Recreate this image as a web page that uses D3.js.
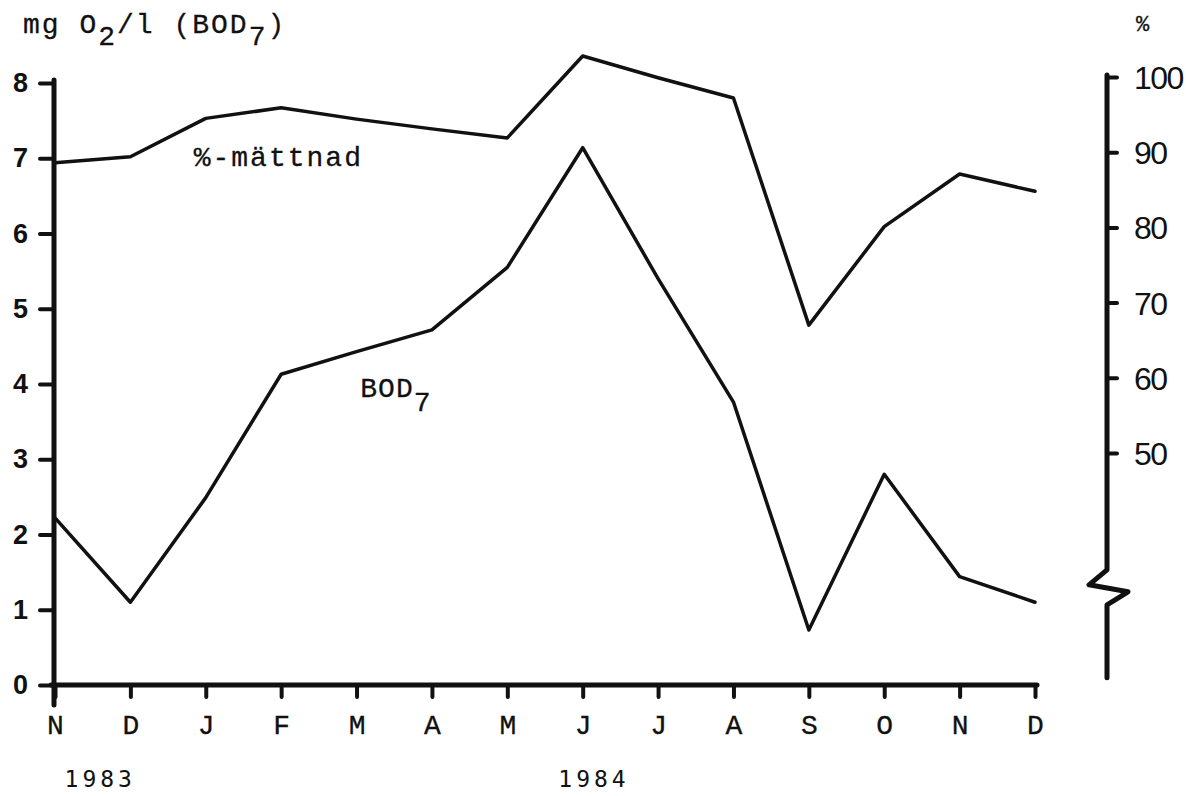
<!DOCTYPE html>
<html>
<head>
  <meta charset="utf-8">
  <title>BOD7 och syremättnad</title>
  <script src="https://d3js.org/d3.v7.min.js"></script>
  <style>
    body { margin: 0; background: #fff; }
    svg { display: block; }
    .mono { font-family: "Liberation Mono", "DejaVu Sans Mono", monospace; fill: #111; stroke: #111; stroke-width: 0.3px; }
    .left-axis text { font-family: "Liberation Sans", Arial, sans-serif; font-weight: bold; font-size: 27px; fill: #111; }
    .right-axis text { font-family: "Liberation Sans", Arial, sans-serif; font-size: 32px; letter-spacing: -1.5px; fill: #111; }
    .bottom-axis text { font-family: "Liberation Mono", monospace; font-size: 28px; fill: #111; stroke: #111; stroke-width: 0.3px; }
    .series { fill: none; stroke: #111; stroke-width: 3.5px; stroke-linejoin: round; stroke-linecap: round; }
  </style>
</head>
<body>
  <svg width="1186" height="796"></svg>
  <script>
    // months Nov 1983 - Dec 1984
    const months = ["N", "D", "J", "F", "M", "A", "M", "J", "J", "A", "S", "O", "N", "D"];
    const years = [{ label: "1983", at: 0.6 }, { label: "1984", at: 7.15 }];

    // BOD7, mg O2/l
    const bod7 = [2.22, 1.10, 2.49, 4.13, 4.43, 4.72, 5.55, 7.14, 5.40, 3.76, 0.73, 2.80, 1.44, 1.10];
    // syremättnad, %
    const saturation = [88.6, 89.4, 94.5, 95.9, 94.4, 93.1, 91.9, 102.8, 99.9, 97.2, 67.0, 80.1, 87.1, 84.8];

    const leftTicks = [0, 1, 2, 3, 4, 5, 6, 7, 8];
    const rightTicks = [50, 60, 70, 80, 90, 100];

    const svg = d3.select("svg");

    const x = d3.scaleLinear().domain([0, months.length - 1]).range([55, 1035]);
    const yLeft = d3.scaleLinear().domain([0, 8]).range([685, 83]);
    const yRight = d3.scaleLinear().domain([50, 100]).range([453, 77]);

    // left axis
    const gLeft = svg.append("g")
      .attr("class", "left-axis")
      .attr("transform", "translate(54,0)")
      .call(d3.axisLeft(yLeft).tickValues(leftTicks).tickSize(14).tickPadding(12).tickSizeOuter(0));
    gLeft.select(".domain").remove();
    gLeft.selectAll(".tick line").attr("stroke", "#111").attr("stroke-width", 4).attr("stroke-linecap", "round");
    gLeft.append("line")
      .attr("y1", yLeft(8) - 3).attr("y2", yLeft(0) + 20)
      .attr("stroke", "#111").attr("stroke-width", 5).attr("stroke-linecap", "round");

    // bottom axis
    const gBottom = svg.append("g")
      .attr("class", "bottom-axis")
      .attr("transform", `translate(0,${yLeft(0)})`)
      .call(d3.axisBottom(x).tickValues(d3.range(months.length)).tickFormat(i => months[i])
        .tickSize(12).tickPadding(24).tickSizeOuter(0));
    gBottom.select(".domain").remove();
    gBottom.selectAll(".tick line").attr("stroke", "#111").attr("stroke-width", 4).attr("stroke-linecap", "round");
    gBottom.append("line")
      .attr("x1", x(0) - 4).attr("x2", x(months.length - 1) + 2)
      .attr("stroke", "#111").attr("stroke-width", 5).attr("stroke-linecap", "round");
    gBottom.selectAll(".tick text").attr("dy", "0.45em");

    // right axis with break
    const rx = 1107;
    const gRight = svg.append("g")
      .attr("class", "right-axis")
      .attr("transform", `translate(${rx},0)`)
      .call(d3.axisRight(yRight).tickValues(rightTicks).tickSize(10).tickPadding(17).tickSizeOuter(0));
    gRight.select(".domain").remove();
    gRight.selectAll(".tick line").attr("stroke", "#111").attr("stroke-width", 4).attr("stroke-linecap", "round");
    gRight.selectAll(".tick text").attr("dy", "0.36em");
    const bTop = yRight(35) + 4;
    gRight.append("path")
      .attr("d", `M0,${yRight(100) - 2} V${bTop} L-18,${bTop + 15} L21,${bTop + 22} L0,${bTop + 35} V${bTop + 108}`)
      .attr("fill", "none").attr("stroke", "#111").attr("stroke-width", 5)
      .attr("stroke-linejoin", "round").attr("stroke-linecap", "round");

    // series
    const lineBod = d3.line().x((d, i) => x(i)).y(d => yLeft(d));
    const lineSat = d3.line().x((d, i) => x(i)).y(d => yRight(d));
    svg.append("path").attr("class", "series").attr("d", lineBod(bod7));
    svg.append("path").attr("class", "series").attr("d", lineSat(saturation));

    // labels
    const title = svg.append("text").attr("class", "mono")
      .attr("x", 23).attr("y", 33).attr("font-size", 28).attr("letter-spacing", 2);
    title.append("tspan").text("mg O");
    title.append("tspan").attr("dy", 12).text("2");
    title.append("tspan").attr("dy", -12).text("/l (BOD");
    title.append("tspan").attr("dy", 12).text("7");
    title.append("tspan").attr("dy", -12).text(")");

    svg.append("text").attr("class", "mono")
      .attr("x", 1136).attr("y", 31).attr("font-size", 22).text("%");

    svg.append("text").attr("class", "mono")
      .attr("x", x(1.84)).attr("y", yLeft(6.9)).attr("font-size", 28).attr("letter-spacing", 2)
      .text("%-mättnad");

    const bodLabel = svg.append("text").attr("class", "mono")
      .attr("x", x(4.05)).attr("y", yLeft(3.83)).attr("font-size", 28).attr("letter-spacing", 1);
    bodLabel.append("tspan").text("BOD");
    bodLabel.append("tspan").attr("dy", 14).text("7");

    svg.selectAll(".year")
      .data(years)
      .enter().append("text")
      .attr("class", "year")
      .attr("x", d => x(d.at))
      .attr("y", 787)
      .attr("text-anchor", "middle")
      .attr("font-family", "'DejaVu Sans Mono', monospace")
      .attr("font-size", 23)
      .attr("letter-spacing", 4)
      .attr("fill", "#111")
      .text(d => d.label);
  </script>
</body>
</html>
